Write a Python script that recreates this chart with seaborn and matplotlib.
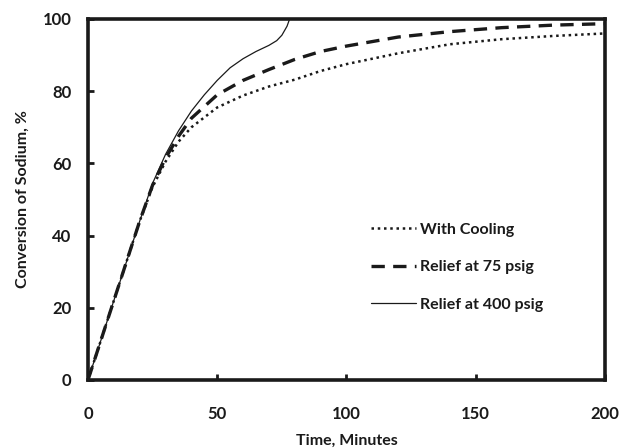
import matplotlib
matplotlib.use("Agg")
import matplotlib.pyplot as plt
import seaborn as sns
import pandas as pd

# curve values
t_cool = [0, 5, 10, 15, 20, 25, 30, 35, 40, 50, 60, 70, 80, 90, 100, 120, 140, 160, 180, 200]
y_cool = [0, 11, 22, 33, 44, 53.5, 60.5, 66, 70, 75.5, 78.8, 81.3, 83.2, 85.6, 87.5, 90.5, 93.0, 94.4, 95.3, 96.0]

t_75 = [0, 5, 10, 15, 20, 25, 30, 35, 40, 50, 60, 70, 80, 90, 100, 120, 140, 160, 180, 200]
y_75 = [0, 11, 22, 33, 44, 54, 61.5, 67.5, 72.5, 79, 83, 86, 88.8, 91, 92.5, 95, 96.5, 97.6, 98.3, 98.7]

t_400 = [0, 5, 10, 15, 20, 25, 30, 35, 40, 45, 50, 55, 60, 65, 70, 73, 75, 77, 78]
y_400 = [0, 11, 22, 33, 44, 54.5, 62.5, 69, 74.5, 79, 83, 86.5, 89, 91, 92.7, 94, 95.5, 98, 100]

labels = ["With Cooling", "Relief at 75 psig", "Relief at 400 psig"]

df = pd.concat([
    pd.DataFrame({"t": t_cool, "y": y_cool, "case": labels[0]}),
    pd.DataFrame({"t": t_75, "y": y_75, "case": labels[1]}),
    pd.DataFrame({"t": t_400, "y": y_400, "case": labels[2]}),
])

sns.set_style("white")
plt.rcParams["font.family"] = ["Lato", "DejaVu Sans"]
plt.rcParams["font.weight"] = "bold"

fig = plt.figure(figsize=(6.21, 4.48), dpi=100)
ax = fig.add_axes([0.1417, 0.1518, 0.8325, 0.8058])

styles = {labels[0]: dict(ls=(0, (1, 1.5)), lw=1.8),
          labels[1]: dict(ls=(0, (4, 2.5)), lw=2.4),
          labels[2]: dict(ls="-", lw=0.9)}

for lab in labels:
    sns.lineplot(data=df[df.case == lab], x="t", y="y", ax=ax, color="#1a1a1a",
                 label=lab, **styles[lab])

ax.set_xlim(0, 200)
ax.set_ylim(0, 100)
ax.set_xticks([0, 50, 100, 150, 200])
ax.set_yticks([0, 20, 40, 60, 80, 100])
ax.tick_params(axis="both", direction="in", length=4, width=2, labelsize=12,
               color="#1a1a1a", labelcolor="#1a1a1a", left=True, bottom=True)
ax.tick_params(axis="x", pad=19)
ax.tick_params(axis="y", pad=12)
for s in ax.spines.values():
    s.set_linewidth(2.6)
    s.set_color("#1a1a1a")

ax.set_xlabel("Time, Minutes", fontsize=11.5, fontweight="bold", labelpad=8, color="#1a1a1a")
ax.set_ylabel("Conversion of Sodium, %", fontsize=11.5, fontweight="bold", labelpad=9, color="#1a1a1a")

leg = ax.legend(loc="upper left", bbox_to_anchor=(0.52, 0.475), frameon=False,
                fontsize=11.5, handlelength=2.8, handletextpad=0.25, labelspacing=1.45)
for txt in leg.get_texts():
    txt.set_color("#1a1a1a")

fig.savefig("out.png", dpi=100)
